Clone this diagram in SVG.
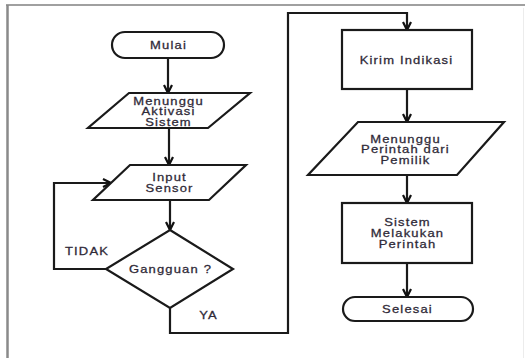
<svg xmlns="http://www.w3.org/2000/svg" width="525" height="358" viewBox="0 0 525 358">
<defs>
<marker id="arr" viewBox="0 0 10 10" refX="9" refY="5" markerWidth="10" markerHeight="10" markerUnits="userSpaceOnUse" orient="auto">
<path d="M1,1 L9,5 L1,9" fill="none" stroke="#111" stroke-width="2.2" stroke-linejoin="miter"/>
</marker>
<style>
.sh{fill:#fff;stroke:#1a1a1a;stroke-width:2.2}
.cn{fill:none;stroke:#1a1a1a;stroke-width:2.2;marker-end:url(#arr)}
.t{font-family:"Liberation Sans",Arial,sans-serif;font-size:10px;fill:#2f2a38;stroke:#2f2a38;stroke-width:0.25;text-anchor:middle;letter-spacing:0.9px}
</style>
</defs>
<rect width="525" height="358" fill="#fff"/>
<g id="frame">
<line x1="6" y1="5" x2="525" y2="5" stroke="#a0a0a0" stroke-width="2"/>
<line x1="7.5" y1="5" x2="7.5" y2="358" stroke="#8a8a8a" stroke-width="2.5"/>
<line x1="523.5" y1="8" x2="523.5" y2="358" stroke="#ececec" stroke-width="1"/>
</g>
<g id="connectors">
<line class="cn" x1="168" y1="58" x2="168" y2="93"/>
<line class="cn" x1="169" y1="128" x2="169" y2="165"/>
<line class="cn" x1="170" y1="200" x2="170" y2="230"/>
<polyline class="cn" points="106,269 54,269 54,183 111,183"/>
<polyline class="cn" points="170,308 170,333 288,333 288,13 407,13 407,30"/>
<line class="cn" x1="407" y1="89" x2="407" y2="122"/>
<line class="cn" x1="407" y1="175" x2="407" y2="203"/>
<line class="cn" x1="407" y1="263" x2="407" y2="297"/>
<text class="t" transform="translate(87,254.5) scale(1.3,1)">TIDAK</text>
<text class="t" transform="translate(208.5,318.5) scale(1.3,1)">YA</text>
</g>
<g id="mulai">
<rect class="sh" x="112" y="32" width="112" height="26" rx="13"/>
<text class="t" transform="translate(168.5,48.5) scale(1.3,1)">Mulai</text>
</g>
<g id="menunggu-aktivasi">
<polygon class="sh" points="129,93 250,93 208,128 88,128"/>
<text class="t" transform="translate(168.5,104.5) scale(1.3,1)">Menunggu</text>
<text class="t" transform="translate(168.5,115) scale(1.3,1)">Aktivasi</text>
<text class="t" transform="translate(168.5,125.5) scale(1.3,1)">Sistem</text>
</g>
<g id="input-sensor">
<polygon class="sh" points="130,165 246,165 209,200 93,200"/>
<text class="t" transform="translate(169.5,180.5) scale(1.3,1)">Input</text>
<text class="t" transform="translate(169.5,191.5) scale(1.3,1)">Sensor</text>
</g>
<g id="gangguan">
<polygon class="sh" points="170,230 233,269 170,308 106,269"/>
<text class="t" transform="translate(170.5,272.5) scale(1.3,1)">Gangguan ?</text>
</g>
<g id="kirim-indikasi">
<rect class="sh" x="342" y="30" width="130" height="59"/>
<text class="t" transform="translate(406.5,64) scale(1.3,1)">Kirim Indikasi</text>
</g>
<g id="menunggu-perintah">
<polygon class="sh" points="358,122 504,122 457,175 308,175"/>
<text class="t" transform="translate(405.5,142.5) scale(1.3,1)">Menunggu</text>
<text class="t" transform="translate(405.5,153) scale(1.3,1)">Perintah dari</text>
<text class="t" transform="translate(405.5,163.5) scale(1.3,1)">Pemilik</text>
</g>
<g id="sistem-melakukan">
<rect class="sh" x="342" y="203" width="130" height="60"/>
<text class="t" transform="translate(407.5,225.5) scale(1.3,1)">Sistem</text>
<text class="t" transform="translate(407.5,236.5) scale(1.3,1)">Melakukan</text>
<text class="t" transform="translate(407.5,247.5) scale(1.3,1)">Perintah</text>
</g>
<g id="selesai">
<rect class="sh" x="343" y="297" width="130" height="24" rx="12"/>
<text class="t" transform="translate(407.5,312.5) scale(1.3,1)">Selesai</text>
</g>
</svg>
